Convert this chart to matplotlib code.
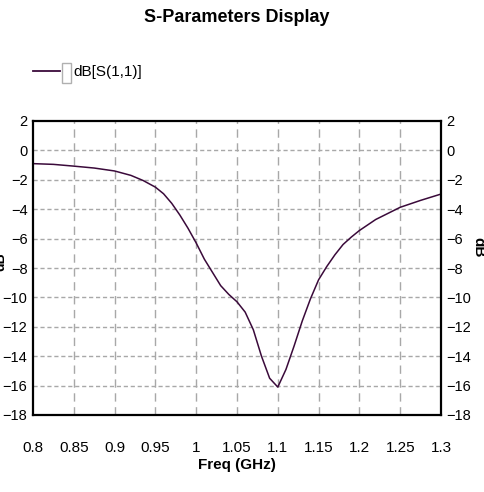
import matplotlib.pyplot as plt
from matplotlib.lines import Line2D
from matplotlib.patches import Rectangle

plt.rcParams['font.family'] = ['Liberation Sans', 'DejaVu Sans']

# S11 (GHz, dB)
freq = [0.80, 0.825, 0.85, 0.875, 0.90, 0.92, 0.935, 0.95, 0.96, 0.97,
        0.98, 0.99, 1.00, 1.01, 1.02, 1.03, 1.04, 1.05, 1.06, 1.07,
        1.08, 1.09, 1.10, 1.11, 1.12, 1.13, 1.14, 1.15, 1.16, 1.17,
        1.18, 1.19, 1.20, 1.22, 1.25, 1.275, 1.30]
s11_db = [-0.9, -0.95, -1.07, -1.2, -1.4, -1.7, -2.05, -2.5, -2.95, -3.6,
          -4.4, -5.3, -6.3, -7.4, -8.3, -9.2, -9.8, -10.3, -11.0, -12.2,
          -14.0, -15.5, -16.1, -14.9, -13.3, -11.6, -10.1, -8.8, -7.9, -7.1,
          -6.4, -5.9, -5.45, -4.7, -3.87, -3.4, -2.97]

x_ticks = [0.8, 0.85, 0.9, 0.95, 1.0, 1.05, 1.1, 1.15, 1.2, 1.25, 1.3]
x_labels = ['0.8', '0.85', '0.9', '0.95', '1', '1.05', '1.1', '1.15', '1.2', '1.25', '1.3']
y_ticks = [2, 0, -2, -4, -6, -8, -10, -12, -14, -16, -18]

line_color = '#3a0a3a'
grid_color = '#a8a8a8'

fig = plt.figure(figsize=(4.84, 4.92), dpi=100)
ax = fig.add_axes([33 / 484, 1 - 415 / 492, 408 / 484, 294 / 492])

ax.plot(freq, s11_db, color=line_color, lw=1.1)

ax.set_xlim(0.8, 1.3)
ax.set_ylim(-18, 2)
ax.set_xticks(x_ticks)
ax.set_xticklabels(x_labels)
ax.set_yticks(y_ticks)
ax.tick_params(length=0, labelsize=10.5)
ax.tick_params(axis='x', pad=19, labelsize=11)
ax.tick_params(axis='y', pad=4, right=True, labelright=True)

# horizontal grid dotted, vertical dashed
for y in y_ticks[1:-1]:
    ax.axhline(y, color=grid_color, lw=1, ls=(0, (3, 2)), zorder=0)
for x in x_ticks[1:-1]:
    ax.axvline(x, color=grid_color, lw=1, ls=(0, (6, 4)), zorder=0)

for sp in ax.spines.values():
    sp.set_linewidth(1.6)

ax.set_xlabel('Freq (GHz)', fontsize=11, fontweight='bold', labelpad=2)

fig.text(237 / 484, 1 - 18 / 492, 'S-Parameters Display', ha='center', va='center',
         fontsize=13, fontweight='bold')

# legend entry
fig.add_artist(Line2D([33 / 484, 60 / 484], [1 - 71 / 492] * 2, color=line_color, lw=1.3))
fig.add_artist(Rectangle((62 / 484, 1 - 83 / 492), 9 / 484, 20 / 492, fill=False,
                         edgecolor='#b0b0b0', lw=1))
fig.text(73 / 484, 1 - 72 / 492, 'dB[S(1,1)]', ha='left', va='center', fontsize=11)

# y labels, left one cut at the edge
fig.text(0 / 484, 1 - 262 / 492, 'dB', rotation=90, ha='center', va='center',
         fontsize=10, fontweight='bold')
fig.text(478 / 484, 1 - 247 / 492, 'dB', rotation=270, ha='center', va='center',
         fontsize=11, fontweight='bold')

fig.savefig('out.png', dpi=100)
